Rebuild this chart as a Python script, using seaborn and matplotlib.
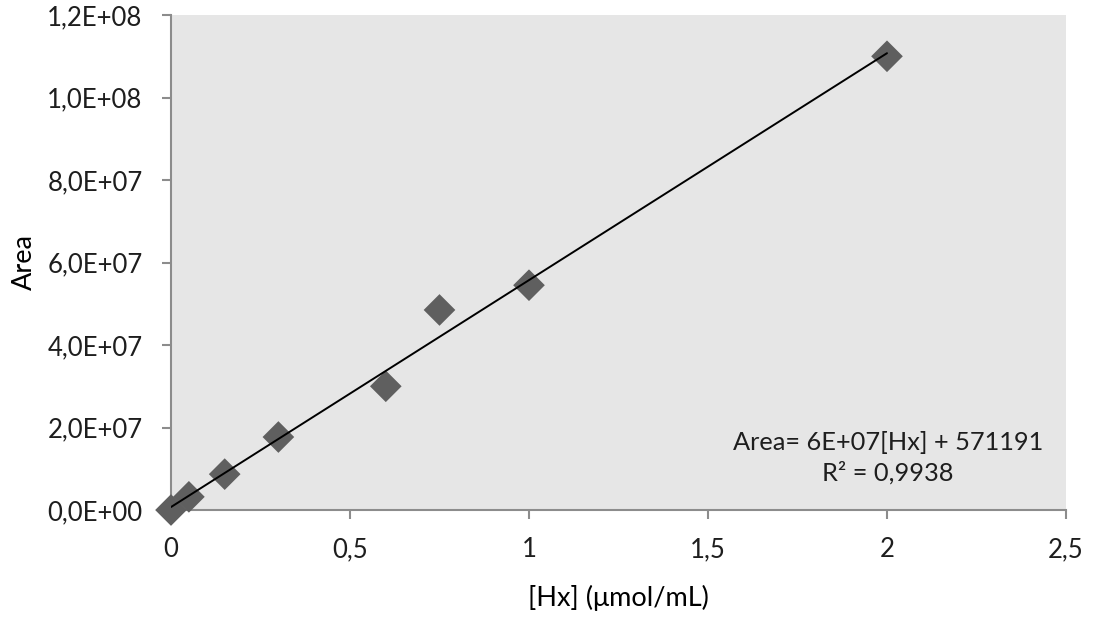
import numpy as np
import pandas as pd
import matplotlib
matplotlib.use("Agg")
import matplotlib.pyplot as plt
import seaborn as sns
from matplotlib.ticker import FuncFormatter

# Calibration data: hypoxanthine concentration vs. peak area
hx_conc = [0.0, 0.05, 0.15, 0.3, 0.6, 0.75, 1.0, 2.0]
peak_area = [0.0, 3.2e6, 8.7e6, 1.77e7, 3.0e7, 4.85e7, 5.45e7, 1.10e8]

x_ticks = [0, 0.5, 1.0, 1.5, 2.0, 2.5]
y_ticks = [0, 2e7, 4e7, 6e7, 8e7, 1e8, 1.2e8]

eq_text = "Area= 6E+07[Hx] + 571191\nR² = 0,9938"

df = pd.DataFrame({"conc": hx_conc, "area": peak_area})

sns.set_theme(style="white")
plt.rcParams["font.family"] = ["Lato", "DejaVu Sans"]

fig = plt.figure(figsize=(10.94, 6.21), dpi=100)
ax = fig.add_axes([0.1563, 0.1787, 0.9744 - 0.1563, 0.9758 - 0.1787])
ax.set_facecolor("#E6E6E6")

# Linear trendline (least squares) over the data range
slope, intercept = np.polyfit(df["conc"], df["area"], 1)
line_x = np.array([df["conc"].min(), df["conc"].max()])
fit_df = pd.DataFrame({"conc": line_x, "area": slope * line_x + intercept})

sns.scatterplot(data=df, x="conc", y="area", marker="D", s=260,
                color="#5F5F5F", edgecolor="none", ax=ax, zorder=3,
                clip_on=False)
sns.lineplot(data=fit_df, x="conc", y="area", color="black", linewidth=1.4,
             ax=ax, zorder=4)

ax.set_xlim(0, 2.5)
ax.set_ylim(0, 1.2e8)
ax.set_xticks(x_ticks)
ax.set_yticks(y_ticks)

def fmt_x(v, pos):
    return f"{v:g}".replace(".", ",")

def fmt_y(v, pos):
    return f"{v:.1E}".replace(".", ",")

ax.xaxis.set_major_formatter(FuncFormatter(fmt_x))
ax.yaxis.set_major_formatter(FuncFormatter(fmt_y))

for side in ["top", "right"]:
    ax.spines[side].set_visible(False)
for side in ["left", "bottom"]:
    ax.spines[side].set_color("#8C8C8C")
    ax.spines[side].set_linewidth(1.5)

ax.tick_params(axis="both", which="major", direction="out", length=6.5,
               width=1.5, color="#8C8C8C", labelsize=18.5, labelcolor="#1E1E1E",
               bottom=True, left=True)
ax.tick_params(axis="y", pad=14)
ax.tick_params(axis="x", pad=13)

ax.set_xlabel("[Hx] (μmol/mL)", fontsize=19.5, color="black", va="center")
ax.set_ylabel("Area", fontsize=19.5, color="black", va="center")
ax.xaxis.set_label_coords(0.5, -0.178)
ax.yaxis.set_label_coords(-0.164, 0.501)

ax.text(2.003, 1.27e7, eq_text, ha="center", va="center", fontsize=18.3,
        color="#1E1E1E", linespacing=1.4)

fig.savefig("out.png", dpi=100)
